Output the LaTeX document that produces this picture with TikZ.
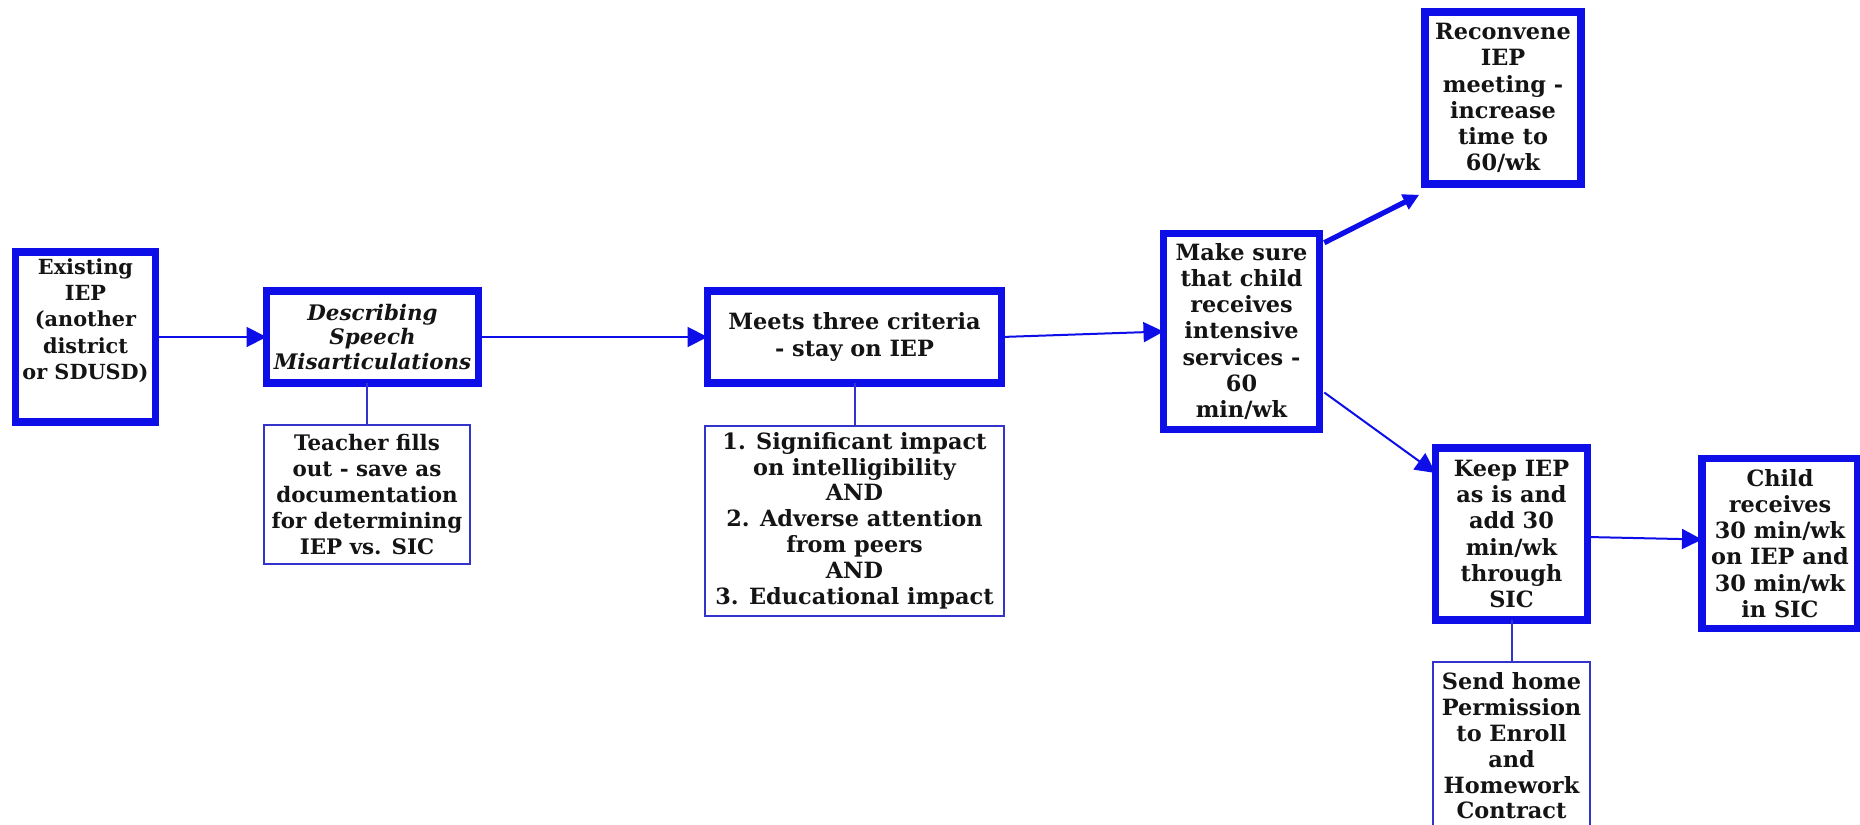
\documentclass[tikz,border=0pt]{standalone}
\usepackage{fontspec}
\setmainfont{DejaVu Serif}
\usetikzlibrary{positioning,arrows.meta}
\definecolor{boxblue}{RGB}{14,14,232}
\definecolor{lineblue}{RGB}{52,52,204}

\begin{document}
\begin{tikzpicture}[
    bigbox/.style={rectangle,draw=boxblue,line width=3.7pt,fill=white,outer sep=0pt,inner sep=1pt,align=center,text=black!92,font=\bfseries\fontsize{11.2}{13.1}\selectfont},
    notebox/.style={rectangle,draw=lineblue,line width=1pt,fill=white,outer sep=0pt,inner sep=1pt,align=center,text=black!92,font=\bfseries\fontsize{11.2}{12.9}\selectfont},
    flow/.style={draw=boxblue,line width=1pt,-{Triangle[length=10pt,width=10pt]}},
    link/.style={draw=lineblue,line width=1pt}
]
    \useasboundingbox[fill=white] (0,0) rectangle (930pt,-412.5pt);

    \node (exist) [bigbox,minimum width=70pt,minimum height=85pt,text depth=18pt,font=\bfseries\fontsize{10.4}{13.2}\selectfont] at (42.75pt,-168.5pt) {Existing\\IEP\\(another\\district\\or SDUSD)};

    \node (describe) [bigbox,minimum width=106pt,minimum height=46pt,right=55.5pt of exist,font=\bfseries\itshape\fontsize{10.7}{12.4}\selectfont] {Describing\\Speech\\Misarticulations};
    \node (teacher) [notebox,minimum width=103pt,minimum height=69.5pt,below=21pt of describe,xshift=-2.75pt,font=\bfseries\fontsize{10.7}{12.9}\selectfont] {Teacher fills\\out - save as\\documentation\\for determining\\IEP vs. SIC};

    \node (criteria) [bigbox,minimum width=147pt,minimum height=46pt,right=114.5pt of describe] {Meets three criteria\\- stay on IEP};
    \node (threecrit) [notebox,minimum width=149.5pt,minimum height=95pt,below=21.25pt of criteria] {1. Significant impact\\on intelligibility\\AND\\2. Adverse attention\\from peers\\AND\\3. Educational impact};

    \node (makesure) [bigbox,minimum width=78pt,minimum height=98pt,right=81pt of criteria,yshift=2.75pt] {Make sure\\that child\\receives\\intensive\\services -\\60\\min/wk};

    \node (reconvene) [bigbox,minimum width=78pt,minimum height=86pt,above right=24.75pt and 52.75pt of makesure] {Reconvene\\IEP\\meeting -\\increase\\time to\\60/wk};

    \node (keepiep) [bigbox,minimum width=76pt,minimum height=86pt,below right=9.25pt and 58pt of makesure] {Keep IEP\\as is and\\add 30\\min/wk\\through\\SIC};
    \node (sendhome) [notebox,minimum width=78.5pt,minimum height=84.5pt,below=20.75pt of keepiep] {Send home\\Permission\\to Enroll\\and\\Homework\\Contract};

    \node (childgets) [bigbox,minimum width=78pt,minimum height=85pt,right=57.25pt of keepiep,yshift=-4.75pt] {Child\\receives\\30 min/wk\\on IEP and\\30 min/wk\\in SIC};

    % Arrows
    \draw[flow] (exist.east) to (describe.west);
    \draw[flow] (describe.east) to (criteria.west);
    \draw[flow] (criteria.east) to (makesure.west);
    \draw[flow,line width=2.6pt,-{Triangle[length=8pt,width=8pt]}] ([shift={(2.4pt,-4.6pt)}]makesure.north east) to ([shift={(-2.9pt,-5.4pt)}]reconvene.south west);
    \draw[flow] ([shift={(2.4pt,18.5pt)}]makesure.south east) to ([yshift=-12.5pt]keepiep.north west);
    \draw[flow] ([yshift=-1.5pt]keepiep.east) to ([yshift=2pt]childgets.west);

    % Notes
    \draw[link] (teacher.north) to (teacher.north |- describe.south);
    \draw[link] (threecrit.north) to (threecrit.north |- criteria.south);
    \draw[link] (sendhome.north) to (keepiep.south);

\end{tikzpicture}
\end{document}
